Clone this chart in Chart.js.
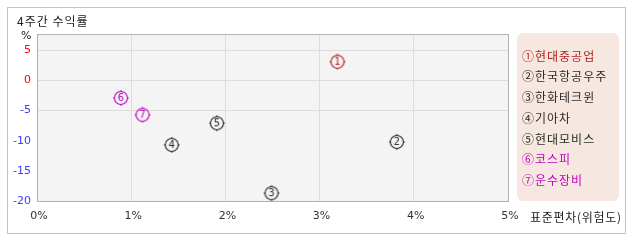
<!DOCTYPE html>
<html>
<head>
<meta charset="utf-8">
<script src="https://cdn.jsdelivr.net/npm/chart.js@4.4.1/dist/chart.umd.min.js"></script>
<style>
  html, body { margin: 0; padding: 0; background: #ffffff; }
  #wrap { position: relative; width: 638px; height: 242px; overflow: hidden; font-family: "Noto Sans CJK KR", sans-serif; }
  #frame { position: absolute; left: 7px; top: 7px; width: 619px; height: 227px; border: 1px solid #c4c4c4; box-sizing: border-box; }
  canvas { position: absolute; left: 0; top: 0; }
  .txt { position: absolute; white-space: nowrap; font-size: 12px; line-height: 14px; color: #222; }
  #legend { position: absolute; left: 517px; top: 33px; width: 102px; height: 168px; background: #f6e8e1; border-radius: 6px; }
  .li { position: absolute; left: 5px; font-size: 12px; line-height: 14px; white-space: nowrap; letter-spacing: 1px; }
</style>
</head>
<body>
<div id="wrap">
  <div id="frame"></div>
  <canvas id="c" width="638" height="242"></canvas>
  <div class="txt" id="title" style="left:17px; top:14px; letter-spacing:1px;">4주간 수익률</div>
  <div class="txt" style="left:21px; top:29px; font-size:11px; font-family:'DejaVu Sans';">%</div>
  <div class="txt" id="xtitle" style="left:530px; top:210px; letter-spacing:0.7px;">표준편차(위험도)</div>
  <div id="legend"></div>
</div>
<script>
// ---- data ----
const markers = ['①', '②', '③', '④', '⑤', '⑥', '⑦'];
const names = ['현대중공업', '한국항공우주', '한화테크윈', '기아차', '현대모비스', '코스피', '운수장비'];
const risk = [3.19, 3.82, 2.49, 1.43, 1.91, 0.89, 1.12];      // 표준편차 (%)
const returns4w = [3.1, -10.2, -18.7, -10.7, -7.1, -2.9, -5.7]; // 4주간 수익률 (%)
const colors = ['#b01e1e', '#2a2a2a', '#2a2a2a', '#2a2a2a', '#2a2a2a', '#c000c0', '#c000c0'];
const yTicks = [-20, -15, -10, -5, 0, 5];
const xTicks = [0, 1, 2, 3, 4, 5];

// legend (HTML)
const leg = document.getElementById('legend');
names.forEach((n, i) => {
  const d = document.createElement('div');
  d.className = 'li';
  d.style.top = (15.7 + i * 20.7) + 'px';
  d.style.color = colors[i];
  d.textContent = markers[i] + n;
  leg.appendChild(d);
});

// marker images
function makeMarker(num, color) {
  const cv = document.createElement('canvas');
  cv.width = 20; cv.height = 20;
  const g = cv.getContext('2d');
  g.strokeStyle = color; g.fillStyle = color; g.lineWidth = 1.1;
  g.beginPath(); g.arc(10, 10, 6.5, 0, Math.PI * 2); g.stroke();
  g.lineWidth = 1;
  g.beginPath();
  g.moveTo(10, 2); g.lineTo(10, 3.6);
  g.moveTo(10, 16.4); g.lineTo(10, 18);
  g.moveTo(2, 10); g.lineTo(3.6, 10);
  g.moveTo(16.4, 10); g.lineTo(18, 10);
  g.stroke();
  g.font = '10px "DejaVu Sans"';
  g.textAlign = 'center'; g.textBaseline = 'middle';
  g.fillText(String(num), 10, 10.5);
  return cv;
}
const markerImgs = colors.map((c, i) => makeMarker(i + 1, c));

const points = risk.map((x, i) => ({ x: x, y: returns4w[i] }));

const plotBg = {
  id: 'plotBg',
  beforeDraw(chart) {
    const a = chart.chartArea, ctx = chart.ctx;
    ctx.save(); ctx.fillStyle = '#f4f4f4';
    ctx.fillRect(a.left, a.top, a.right - a.left, a.bottom - a.top);
    ctx.restore();
  },
  beforeDatasetsDraw(chart) {
    const a = chart.chartArea, ctx = chart.ctx;
    ctx.save(); ctx.strokeStyle = '#b2b2b2'; ctx.lineWidth = 1;
    ctx.strokeRect(Math.round(a.left) + 0.5, Math.round(a.top) + 0.5,
                   Math.round(a.right - a.left), Math.round(a.bottom - a.top));
    ctx.restore();
  }
};

new Chart(document.getElementById('c'), {
  type: 'scatter',
  data: {
    datasets: [{
      data: points,
      pointStyle: markerImgs,
      pointRadius: 8,
      pointHoverRadius: 8,
      backgroundColor: colors,
      borderColor: colors
    }]
  },
  options: {
    responsive: false,
    animation: false,
    events: [],
    layout: { padding: { left: 0, top: 34, right: 130, bottom: 0 } },
    plugins: { legend: { display: false }, tooltip: { enabled: false }, title: { display: false } },
    scales: {
      x: {
        type: 'linear', min: 0, max: 5,
        afterFit(s) { s.height = 41; },
        afterBuildTicks(s) { s.ticks = xTicks.map(v => ({ value: v })); },
        border: { display: false },
        grid: {
          drawTicks: false,
          color: ctx => (ctx.tick && ctx.tick.value > 0 && ctx.tick.value < 5) ? '#dcdcdc' : 'rgba(0,0,0,0)'
        },
        ticks: {
          padding: 9,
          labelOffset: 2,
          color: '#333',
          font: { family: 'DejaVu Sans', size: 11 },
          maxRotation: 0,
          callback: v => v + '%'
        }
      },
      y: {
        type: 'linear', min: -20, max: 7.7,
        afterFit(s) { s.width = 37; },
        afterBuildTicks(s) { s.ticks = yTicks.map(v => ({ value: v })); },
        border: { display: false },
        grid: {
          drawTicks: false,
          color: ctx => (ctx.tick && ctx.tick.value >= -5 && ctx.tick.value <= 5) ? '#dcdcdc' : 'rgba(0,0,0,0)'
        },
        ticks: {
          padding: 6,
          font: { family: 'DejaVu Sans', size: 11 },
          color: ctx => (ctx.tick && ctx.tick.value >= 0) ? '#ff0000' : '#3c3cff'
        }
      }
    }
  },
  plugins: [plotBg]
});
</script>
</body>
</html>
